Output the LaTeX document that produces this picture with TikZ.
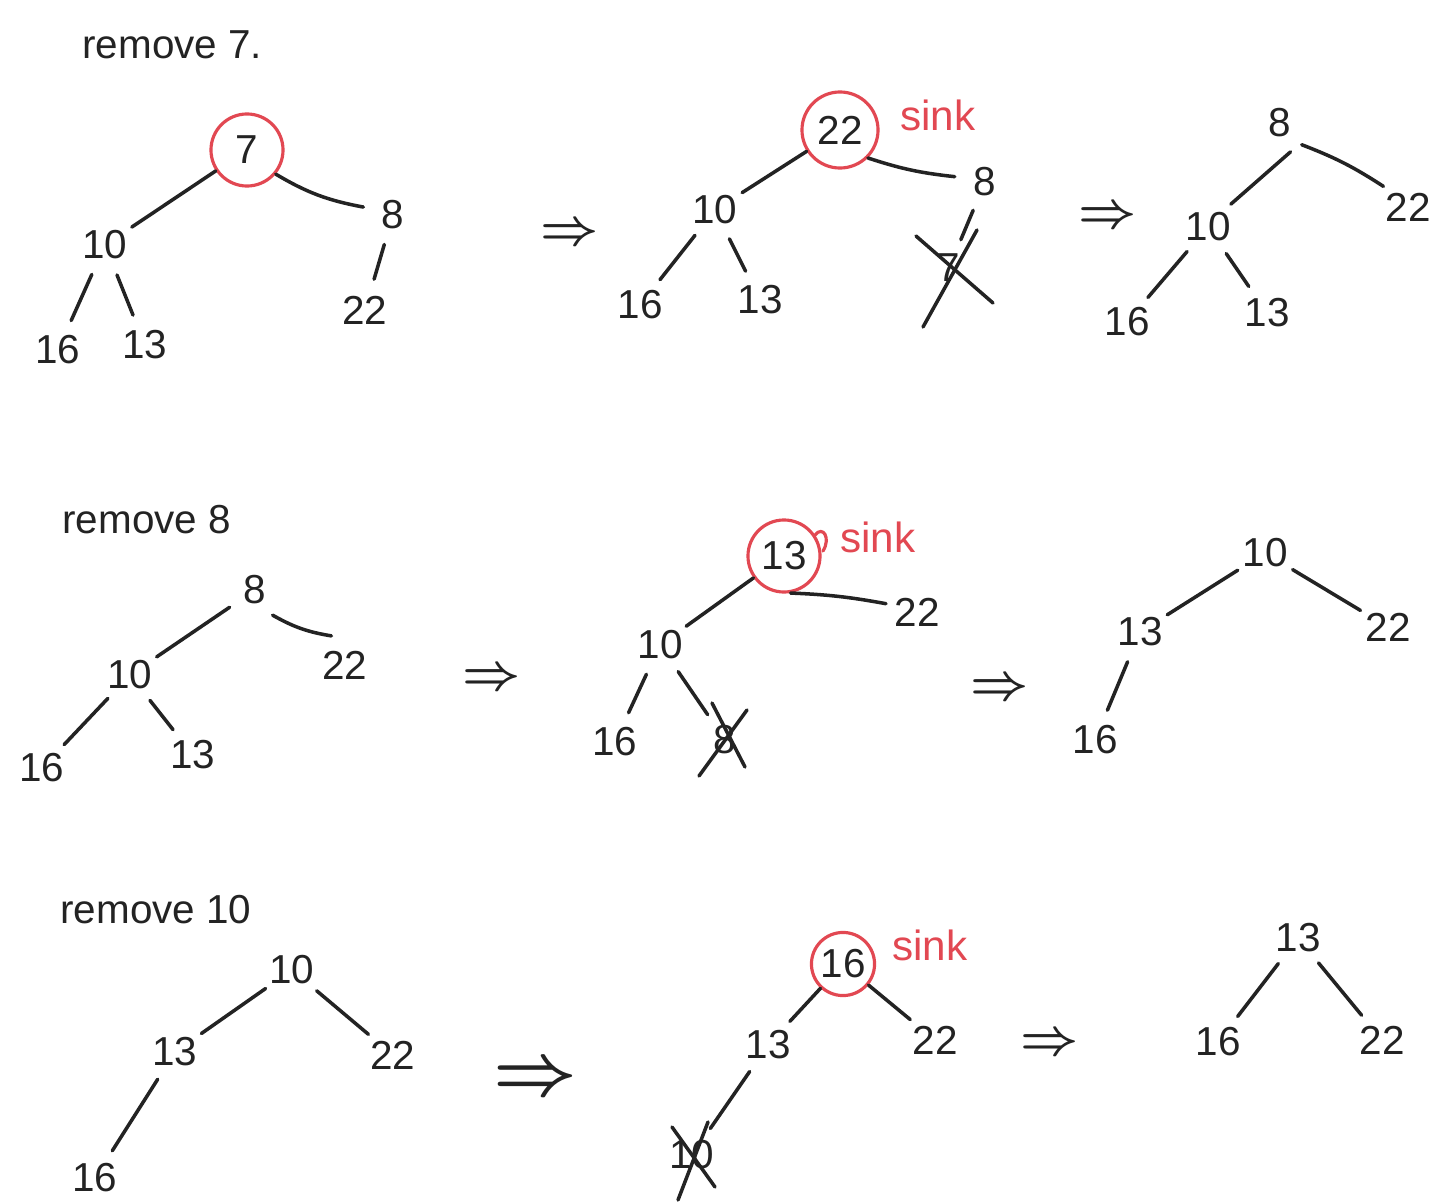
\documentclass[tikz,border=0pt]{standalone}
\usepackage{fontspec}
\setmainfont{Liberation Sans}
\definecolor{pen}{RGB}{35,35,35}
\definecolor{redpen}{RGB}{226,72,82}
\begin{document}
\begin{tikzpicture}[x=0.01cm,y=-0.01cm,
 key/.style={circle,inner sep=1pt,minimum size=0.6cm,text=pen,font=\fontsize{11.5}{14}\selectfont},
 hot/.style={key,draw=redpen,line width=0.9pt,minimum size=0.72cm},
 edge/.style={draw=pen,line width=1pt,line cap=round},
 cross/.style={draw=pen,line width=1pt,line cap=round},
 title/.style={anchor=west,text=pen,font=\fontsize{11.5}{14}\selectfont},
 sinklabel/.style={text=redpen,font=\fontsize{12}{14}\selectfont},
 then/.style={text=pen,font=\Large\boldmath},
 bigthen/.style={text=pen,font=\huge\boldmath},
]
\useasboundingbox[fill=white] (0,0) rectangle (1448,1203);

% ---------- remove 7 ----------
\node[title] (t1) at (70,45) {remove 7.};
\node[hot] (a7) at (247,150) {7};
\node[key] (a10) at (105,245) {10};
\node[key] (a8) at (393,215) {8};
\node[key] (a22) at (365,310) {22};
\node[key] (a16) at (58,350) {16};
\node[key] (a13) at (145,345) {13};
\draw[edge] (a7) -- (a10);
\draw[edge] (a7.-40) to[bend right=10] (a8.165);
\draw[edge] (a8) -- (a22);
\draw[edge] (a10) -- (a16);
\draw[edge] (a10) -- (a13);
\node[then] (r1) at (570,235) {$\Rightarrow$};

\node[hot,minimum size=0.76cm] (b22) at (840,130) {22};
\node[sinklabel] (s1) at (938,115) {sink};
\node[key] (b10) at (715,210) {10};
\node[key] (b8) at (985,182) {8};
\node[key] (b16) at (640,305) {16};
\node[key] (b13) at (760,300) {13};
\node[key] (b7) at (949,268) {7};
\draw[edge] (b22) -- (b10);
\draw[edge] (b22.-45) to[bend right=6] (b8.170);
\draw[edge] (b10) -- (b16);
\draw[edge] (b10) -- (b13);
\draw[edge] (b8) -- (b7);
\draw[cross] ([shift={(-33,-32)}]b7.center) -- ([shift={(44,35)}]b7.center);
\draw[cross] ([shift={(28,-38)}]b7.center) -- ([shift={(-26,59)}]b7.center);
\node[then] (r2) at (1108,218) {$\Rightarrow$};

\node[key] (c8) at (1280,123) {8};
\node[key] (c22) at (1408,207) {22};
\node[key] (c10) at (1208,227) {10};
\node[key] (c16) at (1127,322) {16};
\node[key] (c13) at (1267,313) {13};
\draw[edge] (c8.-70) -- (c10.45);
\draw[edge] (c8.-45) to[bend left=6] (c22.140);
\draw[edge] (c10) -- (c16);
\draw[edge] (c10) -- (c13);

% ---------- remove 8 ----------
\node[title] (t2) at (50,520) {remove 8};
\node[key] (d8) at (255,590) {8};
\node[key] (d10) at (130,675) {10};
\node[key] (d22) at (345,665) {22};
\node[key] (d16) at (42,768) {16};
\node[key] (d13) at (193,755) {13};
\draw[edge] (d8) -- (d10);
\draw[edge] (d8.-55) to[bend right=10] (d22.115);
\draw[edge] (d10) -- (d16);
\draw[edge] (d10) -- (d13);
\node[then] (r3) at (492,680) {$\Rightarrow$};

\node[hot] (e13) at (784,556) {13};
\node[sinklabel] (s2) at (878,537) {sink};
\node[key] (e10) at (660,645) {10};
\node[key] (e22) at (917,612) {22};
\node[key] (e16) at (615,742) {16};
\node[key] (e8) at (725,740) {8};
\draw[redpen,line width=0.9pt,line cap=round] ([shift={(31,-21)}]e13.center) .. controls ([shift={(39,-31)}]e13.center) and ([shift={(47,-18)}]e13.center) .. ([shift={(39,-5)}]e13.center);
\draw[edge] (e13) -- (e10);
\draw[edge] (e13.-80) to[bend left=4] (e22.165);
\draw[edge] (e10) -- (e16);
\draw[edge] (e10) -- (e8);
\draw[cross] ([shift={(-13,-37)}]e8.center) -- ([shift={(20,27)}]e8.center);
\draw[cross] ([shift={(22,-30)}]e8.center) -- ([shift={(-26,36)}]e8.center);
\node[then] (r4) at (1000,690) {$\Rightarrow$};

\node[key] (f10) at (1265,553) {10};
\node[key] (f13) at (1140,632) {13};
\node[key] (f22) at (1388,627) {22};
\node[key] (f16) at (1095,740) {16};
\draw[edge] (f10) -- (f13);
\draw[edge] (f10) -- (f22);
\draw[edge] (f13) -- (f16);

% ---------- remove 10 ----------
\node[title] (t3) at (48,910) {remove 10};
\node[key] (g10) at (292,970) {10};
\node[key] (g13) at (175,1052) {13};
\node[key] (g22) at (393,1055) {22};
\node[key] (g16) at (95,1178) {16};
\draw[edge] (g10) -- (g13);
\draw[edge] (g10) -- (g22);
\draw[edge] (g13) -- (g16);
\node[bigthen] (r5) at (535,1080) {$\Rightarrow$};

\node[hot,minimum size=0.62cm] (h16) at (843,964) {16};
\node[sinklabel] (s3) at (930,945) {sink};
\node[key] (h13) at (768,1045) {13};
\node[key] (h22) at (935,1040) {22};
\node[key] (h10) at (692,1155) {10};
\draw[edge] (h16) -- (h13);
\draw[edge] (h16) -- (h22);
\draw[edge] (h13) -- (h10);
\draw[cross] ([shift={(-20,-28)}]h10.center) -- ([shift={(23,32)}]h10.center);
\draw[cross] ([shift={(16,-33)}]h10.center) -- ([shift={(-14,45)}]h10.center);
\node[then] (r6) at (1050,1045) {$\Rightarrow$};

\node[key] (k13) at (1298,938) {13};
\node[key] (k16) at (1218,1042) {16};
\node[key] (k22) at (1382,1040) {22};
\draw[edge] (k13) -- (k16);
\draw[edge] (k13) -- (k22);
\end{tikzpicture}
\end{document}
